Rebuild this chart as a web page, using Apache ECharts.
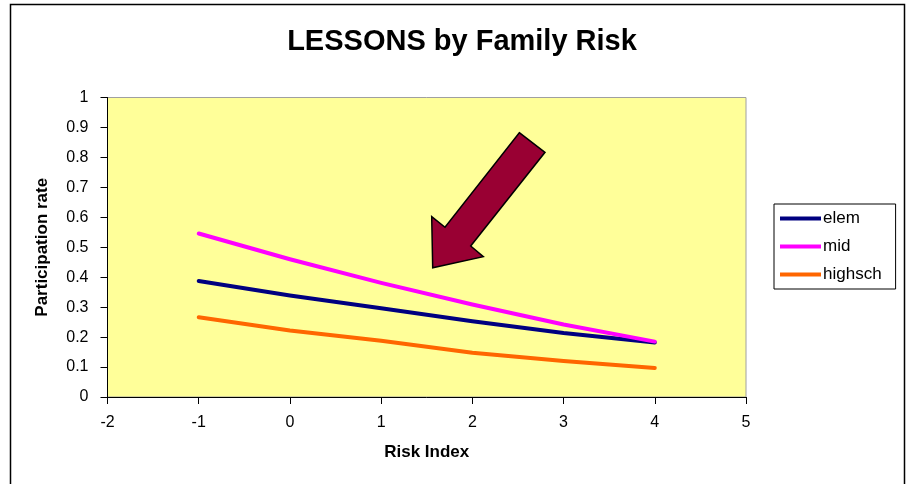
<!DOCTYPE html>
<html>
<head>
<meta charset="utf-8">
<script src="https://cdn.jsdelivr.net/npm/echarts@6/dist/echarts.min.js"></script>
<style>
html,body{margin:0;padding:0;background:#fff;}
#chart{width:912px;height:484px;}
</style>
</head>
<body>
<div id="chart"></div>
<script>
var riskIndex = [-1, 0, 1, 2, 3, 4];
var elem = [0.387, 0.339, 0.296, 0.253, 0.214, 0.182];
var mid = [0.546, 0.460, 0.381, 0.309, 0.242, 0.185];
var highsch = [0.266, 0.222, 0.188, 0.148, 0.120, 0.097];
var seriesNames = ['elem', 'mid', 'highsch'];
var seriesColors = ['#000080', '#FF00FF', '#FF6600'];

function pairs(ys) { return riskIndex.map(function (x, i) { return [x, ys[i]]; }); }

var FONT = '"Liberation Sans", Arial, sans-serif';
var chart = echarts.init(document.getElementById('chart'), null, { renderer: 'canvas' });
var dataSets = [elem, mid, highsch];

chart.setOption({
  animation: false,
  backgroundColor: '#ffffff',
  title: {
    text: 'LESSONS by Family Risk',
    left: 457, top: 22, textAlign: 'center',
    textStyle: { fontFamily: FONT, fontSize: 29, fontWeight: 'bold', color: '#000' }
  },
  grid: {
    left: 107.5, top: 97.5, right: 166, bottom: 87,
    show: true, backgroundColor: '#FFFF99', borderColor: '#A0A0A0', borderWidth: 1
  },
  legend: {
    orient: 'vertical', left: 774, top: 204,
    data: seriesNames,
    icon: 'rect', itemWidth: 41, itemHeight: 4, itemGap: 11,
    padding: [6, 14, 6, 6],
    borderColor: '#000', borderWidth: 1, backgroundColor: '#fff',
    textStyle: { fontFamily: FONT, fontSize: 17, color: '#000', padding: [0, 0, 0, -3] }
  },
  xAxis: {
    type: 'value', min: -2, max: 5, interval: 1,
    name: 'Risk Index', nameLocation: 'middle', nameGap: 47,
    nameTextStyle: { fontFamily: FONT, fontSize: 17, fontWeight: 'bold', color: '#000' },
    axisLine: { show: true, onZero: false, lineStyle: { color: '#000', width: 1 } },
    axisTick: { show: true, length: 7, lineStyle: { color: '#000' } },
    axisLabel: { fontFamily: FONT, fontSize: 16, color: '#000', margin: 18 },
    splitLine: { show: false }
  },
  yAxis: {
    type: 'value', min: 0, max: 1, interval: 0.1,
    name: 'Participation rate', nameLocation: 'middle', nameGap: 57, nameRotate: 90,
    nameTextStyle: { fontFamily: FONT, fontSize: 17, fontWeight: 'bold', color: '#000' },
    axisLine: { show: true, onZero: false, lineStyle: { color: '#000', width: 1 } },
    axisTick: { show: true, length: 7, lineStyle: { color: '#000' } },
    axisLabel: { fontFamily: FONT, fontSize: 16, color: '#000', margin: 19 },
    splitLine: { show: false }
  },
  series: seriesNames.map(function (n, i) {
    return {
      name: n, type: 'line', data: pairs(dataSets[i]),
      showSymbol: false, symbol: 'none',
      lineStyle: { color: seriesColors[i], width: 4, cap: 'round', join: 'round' },
      itemStyle: { color: seriesColors[i] }
    };
  }),
  graphic: [
    {
      type: 'rect', silent: true, z: 100,
      shape: { x: 10.5, y: 4.5, width: 894, height: 490 },
      style: { fill: 'none', stroke: '#000', lineWidth: 1.5 }
    },
    {
      type: 'polygon', z: 50,
      shape: { points: [[519.3, 132.7], [545, 152.3], [470.7, 246], [483.3, 256.7], [432.7, 267.7], [431.7, 216.7], [445, 227.3]] },
      style: { fill: '#990033', stroke: '#000', lineWidth: 1.5 }
    }
  ]
});
</script>
</body>
</html>
